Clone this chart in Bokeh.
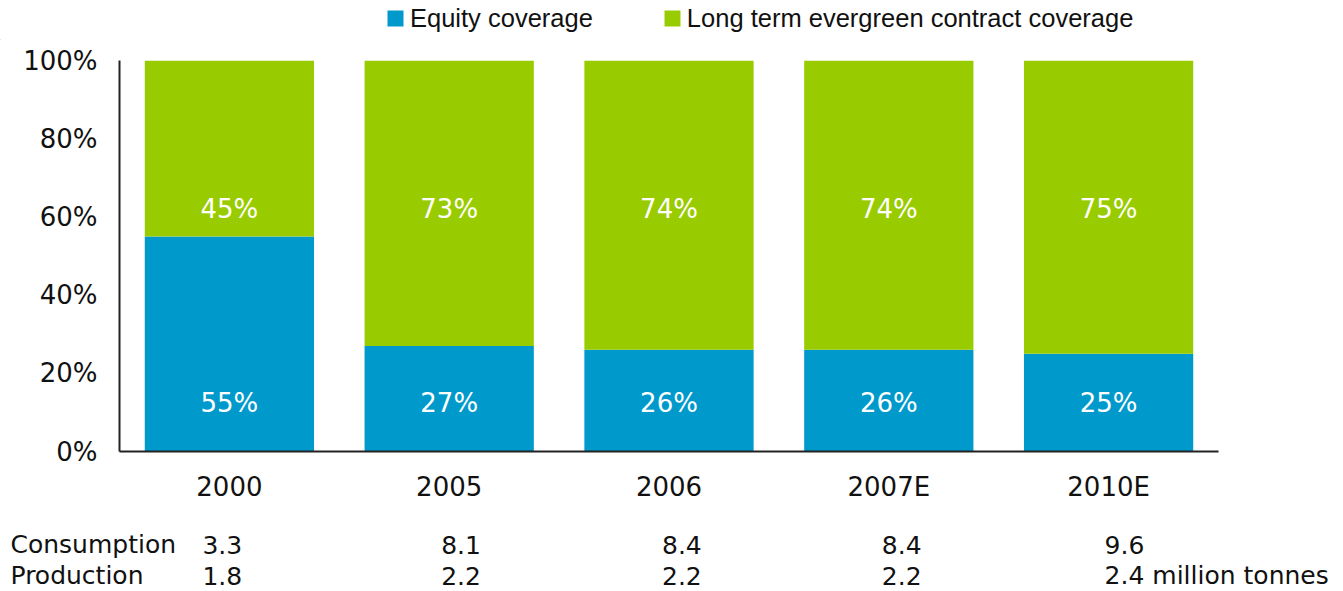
from bokeh.plotting import figure
from bokeh.layouts import column
from bokeh.models import (ColumnDataSource, LabelSet, Legend, LegendItem,
                          FixedTicker, NumeralTickFormatter, Range1d)
from bokeh.core.properties import value
from bokeh.embed import file_html
from bokeh.resources import INLINE

# ---- data ----
years = ["2000", "2005", "2006", "2007E", "2010E"]
equity = [0.55, 0.27, 0.26, 0.26, 0.25]
evergreen = [0.45, 0.73, 0.74, 0.74, 0.75]
equity_labels = ["55%", "27%", "26%", "26%", "25%"]
evergreen_labels = ["45%", "73%", "74%", "74%", "75%"]
row_titles = ["Consumption", "Production"]
consumption = ["3.3", "8.1", "8.4", "8.4", "9.6"]
production = ["1.8", "2.2", "2.2", "2.2", "2.4 million tonnes"]
series_names = ["Equity coverage", "Long term evergreen contract coverage"]

BLUE = "#0099CC"
GREEN = "#99CC00"
FONT = "DejaVu Sans"
TXT = "#111111"

W = 1343
LEFT, RIGHT = 119, 125
CAT_W = (W - LEFT - RIGHT) / len(years)

# ---- top strip with legend ----
top = figure(width=W, height=40, x_range=Range1d(0, W), y_range=Range1d(0, 40),
             output_backend="svg", toolbar_location=None, min_border=0,
             frame_align=False)
top.axis.visible = False
top.grid.visible = False
top.outline_line_color = None
# off-screen swatch renderers, only used to draw the legend keys
d0 = top.vbar(x=[-1000], top=[1], width=1, color=BLUE, line_color=None)
d1 = top.vbar(x=[-1000], top=[1], width=1, color=GREEN, line_color=None)
legend = Legend(items=[LegendItem(label=series_names[0], renderers=[d0]),
                       LegendItem(label=series_names[1], renderers=[d1])],
                location=(385, 7.5), orientation="horizontal",
                glyph_width=20, glyph_height=20, label_standoff=5, spacing=69,
                padding=0, margin=0, border_line_color=None,
                background_fill_alpha=0, label_text_font="Liberation Sans",
                label_text_font_size="25.5px", label_text_color=TXT)
top.add_layout(legend)

# ---- main chart ----
p = figure(x_range=years, y_range=Range1d(0, 1), width=W, height=471,
           output_backend="svg", toolbar_location=None, frame_align=False)
p.min_border_left = LEFT
p.min_border_right = RIGHT
p.min_border_top = 20
p.min_border_bottom = 60
p.outline_line_color = None
p.xgrid.grid_line_color = None
p.ygrid.grid_line_color = None

src = ColumnDataSource(dict(years=years, equity=equity, evergreen=evergreen))
p.vbar_stack(["equity", "evergreen"], x="years", width=0.77, source=src,
             color=[BLUE, GREEN], line_color=None)

p.yaxis.ticker = FixedTicker(ticks=[0, 0.2, 0.4, 0.6, 0.8, 1.0])
p.yaxis.formatter = NumeralTickFormatter(format="0%")
for ax in (p.xaxis[0], p.yaxis[0]):
    ax.axis_line_color = "#222222"
    ax.axis_line_width = 2
    ax.major_tick_line_color = None
    ax.minor_tick_line_color = None
    ax.major_label_text_font = FONT
    ax.major_label_text_font_size = "26px"
    ax.major_label_text_color = TXT
p.yaxis.major_label_standoff = 16
p.xaxis.major_label_standoff = 14

src_lab = ColumnDataSource(dict(x=years, y1=[0.123] * 5, y2=[0.62] * 5,
                                t1=equity_labels, t2=evergreen_labels))
for ycol, tcol in (("y1", "t1"), ("y2", "t2")):
    p.add_layout(LabelSet(x="x", y=ycol, text=tcol, source=src_lab,
                          text_align="center", text_baseline="middle",
                          text_color="white", text_font=value(FONT),
                          text_font_size="26px"))

# ---- table strip below (x in category units: factor i centred at i + 0.5) ----
tab = figure(width=W, height=80,
             x_range=Range1d(-LEFT / CAT_W, (W - LEFT) / CAT_W),
             y_range=Range1d(80, 0),
             output_backend="svg", toolbar_location=None, min_border=0,
             frame_align=False)
tab.axis.visible = False
tab.grid.visible = False
tab.outline_line_color = None

xs = [i + 0.5 for i in range(len(years))]
offs = [-27, -8, -7, -7, -4]
tsrc = ColumnDataSource(dict(x=xs, cons=consumption, prod=production, o=offs))
row_y = [33, 64]
tab.text(x="x", y=row_y[0], text="cons", x_offset="o", source=tsrc,
         text_align="left", text_baseline="middle", text_color=TXT,
         text_font=value(FONT), text_font_size="25px")
tab.text(x="x", y=row_y[1], text="prod", x_offset="o", source=tsrc,
         text_align="left", text_baseline="middle", text_color=TXT,
         text_font=value(FONT), text_font_size="25px")
tab.text(x=[-LEFT / CAT_W] * 2, y=row_y, text=row_titles, x_offset=10,
         text_align="left", text_baseline="middle", text_color=TXT,
         text_font=value(FONT), text_font_size="25px")

layout = column(top, p, tab, spacing=0)
open("out.html", "w").write(file_html(layout, INLINE))
